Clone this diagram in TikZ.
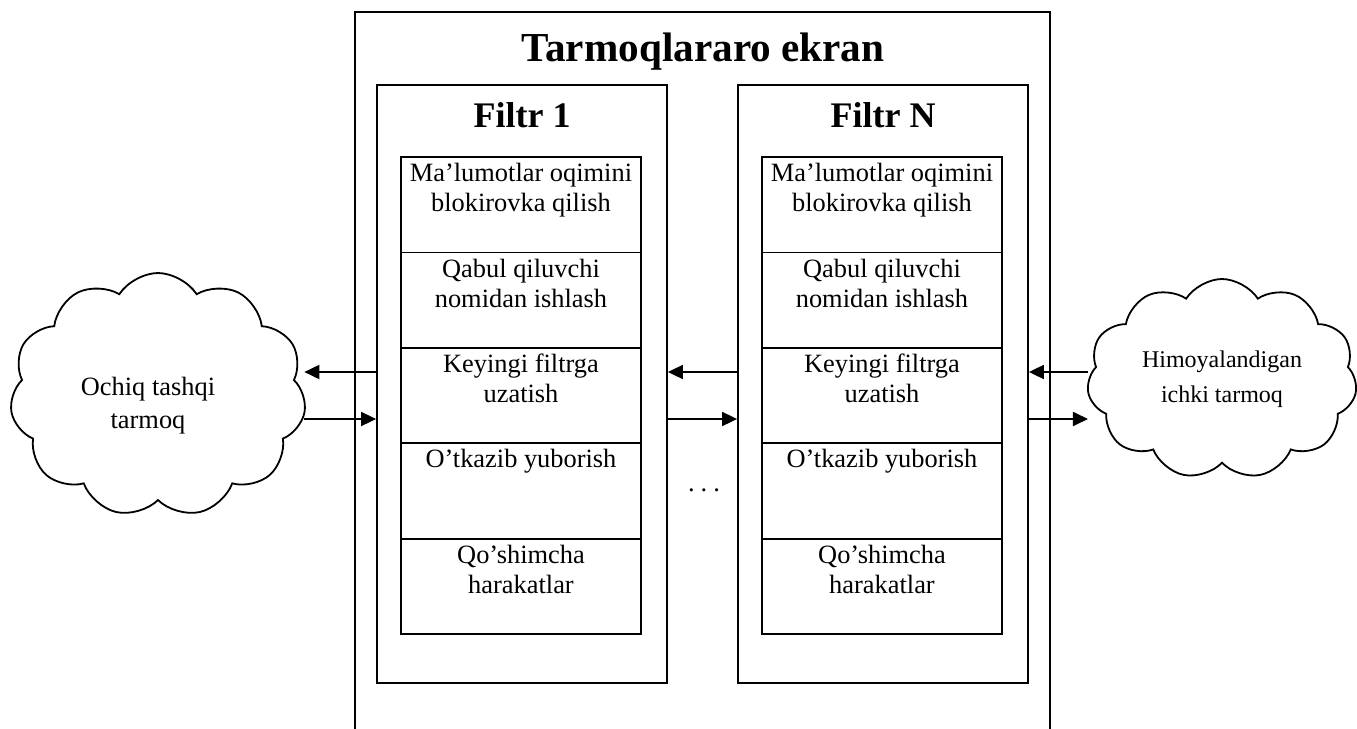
\documentclass[tikz,border=0pt]{standalone}
\usepackage{fontspec}
\setmainfont{Liberation Serif}
\usetikzlibrary{arrows.meta,positioning,shapes.symbols}

\begin{document}
\begin{tikzpicture}[x=0.5pt,y=-0.5pt,line width=0.9pt,>={Triangle[length=7.5pt,width=7pt]},
  every node/.style={font=\fontsize{13.2}{15}\selectfont,align=center},
  filtr/.style={draw,minimum width=145pt,minimum height=299pt,inner sep=0pt},
  cell/.style={draw,minimum width=120pt,minimum height=47.7pt,inner sep=0pt},
  celltxt/.style={anchor=north,inner sep=3.2pt},
  ftitle/.style={font=\fontsize{18}{20}\selectfont\bfseries,anchor=base},
  net/.style={draw,cloud,cloud puffs=11,cloud puff arc=115,cloud ignores aspect,inner sep=0pt}]
\useasboundingbox (0,0) rectangle (1357,729);
% outer frame
\draw (355,729) -- (355,12) -- (1050,12) -- (1050,729);
\node[ftitle,font=\fontsize{20.6}{22}\selectfont\bfseries] (ekran) at (703,61) {Tarmoqlararo ekran};
\node[filtr] (f1) at (522,384) {};\node[filtr] (fn) at (883,384) {};
\node[ftitle] (f1t) at (522,127) {Filtr 1};\node[ftitle] (fnt) at (883,127) {Filtr N};
\foreach \txt [count=\i from 0] in {{Ma’lumotlar oqimini\\blokirovka qilish},{Qabul qiluvchi\\nomidan ishlash},{Keyingi filtrga\\uzatish},{O’tkazib yuborish},{Qo’shimcha\\harakatlar}}{
  \node[cell,label={[celltxt]north:\txt}] (a\i) at (521,{204.7+95.4*\i}) {};
  \node[cell,label={[celltxt]north:\txt}] (b\i) at (882,{204.7+95.4*\i}) {};
}
\node (dots) at (704,490) {.\hspace{3pt}.\hspace{3pt}.};
% networks
\node[net,minimum width=148pt,minimum height=122pt] (ochiq) at (158,395) {};
\node[font=\fontsize{13.2}{16.5}\selectfont] (ochiqtxt) at (148,406) {Ochiq tashqi\\tarmoq};
\node[net,minimum width=135pt,minimum height=100pt,font=\fontsize{12}{17.5}\selectfont] (ichki) at (1222,379) {Himoyalandigan\\ichki tarmoq};
\draw[->] (f1.west |- 0,372) -- (ochiq.east |- 0,372);\draw[->] (ochiq.east |- 0,419) -- (f1.west |- 0,419);
\draw[->] (fn.west |- 0,372) -- (f1.east |- 0,372);\draw[->] (f1.east |- 0,419) -- (fn.west |- 0,419);
\draw[->] (ichki.west |- 0,372) -- (fn.east |- 0,372);\draw[->] (fn.east |- 0,419) -- (ichki.west |- 0,419);
\end{tikzpicture}
\end{document}
